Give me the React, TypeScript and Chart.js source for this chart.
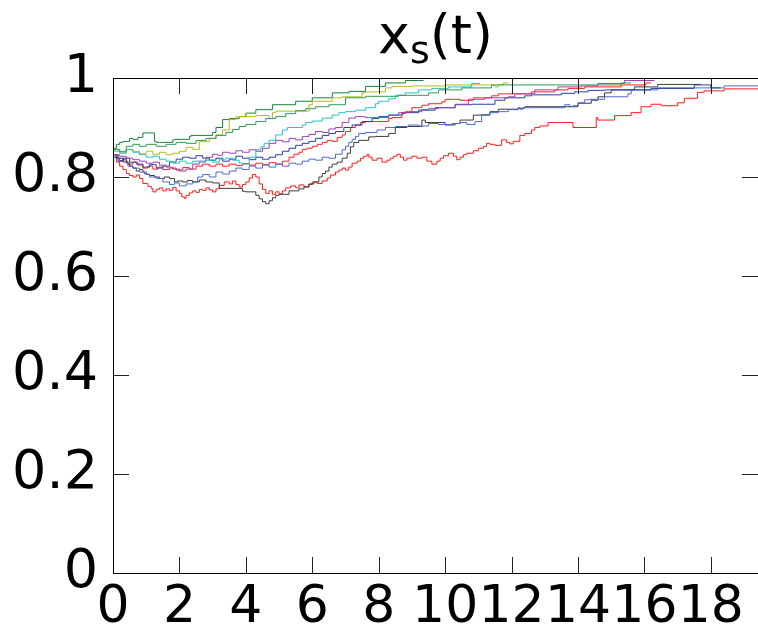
import React, { useEffect, useRef } from "react";
import { Chart, registerables } from "chart.js";

Chart.register(...registerables);

const xTicks = [0, 2, 4, 6, 8, 10, 12, 14, 16, 18];
const yTicks = [0, 0.2, 0.4, 0.6, 0.8, 1];
const xMin = 0;
const xMax = 19.42;
const yMin = 0;
const yMax = 1;

type Pt = [number, number];

const redLow: Pt[] = [[0,0.851],[0.1,0.845],[0.2,0.83],[0.3,0.822],[0.4,0.815],[0.5,0.807],[0.6,0.803],[0.7,0.8],[0.8,0.804],[0.9,0.797],[1.05,0.787],[1.15,0.781],[1.2,0.777],[1.3,0.77],[1.4,0.775],[1.5,0.778],[1.6,0.772],[1.7,0.776],[1.8,0.773],[1.9,0.779],[2.0,0.772],[2.07,0.767],[2.15,0.76],[2.2,0.757],[2.3,0.763],[2.4,0.768],[2.5,0.772],[2.6,0.769],[2.7,0.775],[2.8,0.773],[2.9,0.778],[3.0,0.774],[3.1,0.77],[3.2,0.776],[3.35,0.783],[3.5,0.79],[3.6,0.786],[3.7,0.792],[3.8,0.785],[3.9,0.78],[4.0,0.785],[4.1,0.79],[4.2,0.798],[4.3,0.805],[4.4,0.8],[4.5,0.786],[4.6,0.775],[4.7,0.767],[4.8,0.772],[4.9,0.765],[5.0,0.77],[5.1,0.766],[5.2,0.772],[5.35,0.778],[5.5,0.782],[5.6,0.778],[5.75,0.784],[5.9,0.78],[6.0,0.785],[6.15,0.79],[6.3,0.787],[6.45,0.792],[6.55,0.798],[6.7,0.804],[6.8,0.81],[6.9,0.814],[7.0,0.818],[7.1,0.814],[7.2,0.82],[7.35,0.828],[7.45,0.832],[7.55,0.838],[7.65,0.842],[7.7,0.846],[7.8,0.84],[7.95,0.834],[8.1,0.838],[8.25,0.83],[8.35,0.834],[8.45,0.838],[8.55,0.842],[8.65,0.846],[8.75,0.84],[8.85,0.834],[9.0,0.838],[9.15,0.842],[9.3,0.838],[9.45,0.84],[9.6,0.832],[9.75,0.826],[9.85,0.832],[9.95,0.838],[10.1,0.843],[10.25,0.848],[10.35,0.842],[10.45,0.835],[10.55,0.84],[10.65,0.845],[10.85,0.848],[11.0,0.853],[11.15,0.858],[11.25,0.862],[11.35,0.868],[11.5,0.866],[11.7,0.864],[11.85,0.875],[11.95,0.87],[12.05,0.867],[12.25,0.872],[12.4,0.884],[12.6,0.888],[12.7,0.895],[12.85,0.9],[13.1,0.903],[13.3,0.91],[13.85,0.91],[14.0,0.9],[14.55,0.9],[14.6,0.92],[15.1,0.915],[15.6,0.924],[15.9,0.93],[16.2,0.942],[16.5,0.947],[17.0,0.944],[17.2,0.95],[17.6,0.959],[17.8,0.971],[18.4,0.974],[18.8,0.978],[19.5,0.978]];

const redHigh: Pt[] = [[0,0.85],[0.15,0.845],[0.3,0.838],[0.45,0.832],[0.6,0.826],[0.75,0.83],[0.9,0.824],[1.05,0.818],[1.2,0.822],[1.35,0.816],[1.5,0.82],[1.7,0.815],[1.9,0.818],[2.1,0.814],[2.3,0.819],[2.5,0.816],[2.7,0.822],[2.9,0.826],[3.1,0.822],[3.3,0.826],[3.5,0.822],[3.7,0.826],[3.9,0.823],[4.1,0.827],[4.3,0.824],[4.5,0.828],[4.7,0.825],[4.9,0.829],[5.1,0.826],[5.3,0.832],[5.45,0.84],[5.6,0.846],[5.7,0.85],[5.85,0.856],[6.0,0.858],[6.15,0.862],[6.3,0.866],[6.45,0.87],[6.6,0.874],[6.75,0.872],[6.9,0.88],[7.0,0.885],[7.15,0.892],[7.3,0.9],[7.45,0.905],[7.6,0.91],[8.3,0.912],[8.4,0.918],[8.7,0.92],[8.8,0.928],[9.0,0.932],[9.3,0.94],[9.5,0.945],[9.9,0.948],[10.0,0.952],[10.45,0.957],[10.85,0.955],[11.05,0.96],[11.4,0.96],[11.6,0.964],[12.6,0.968],[13.3,0.972],[13.7,0.976],[14.2,0.979],[15.3,0.982],[15.6,0.986],[16.05,0.986],[16.1,0.99],[16.2,0.99]];

const gray: Pt[] = [[0,0.85],[0.1,0.845],[0.2,0.838],[0.3,0.833],[0.4,0.836],[0.5,0.828],[0.6,0.822],[0.7,0.818],[0.8,0.812],[0.9,0.815],[1.0,0.81],[1.1,0.805],[1.25,0.803],[1.4,0.8],[1.55,0.797],[1.7,0.8],[1.85,0.797],[1.95,0.79],[2.1,0.792],[2.25,0.79],[2.4,0.793],[2.6,0.79],[2.8,0.794],[3.0,0.79],[3.2,0.788],[3.4,0.777],[3.9,0.777],[4.0,0.771],[4.3,0.77],[4.4,0.763],[4.5,0.756],[4.6,0.75],[4.7,0.746],[4.8,0.752],[4.9,0.758],[5.0,0.763],[5.3,0.765],[5.6,0.772],[5.75,0.776],[5.9,0.78],[6.05,0.786],[6.2,0.79],[6.3,0.8],[6.4,0.807],[6.5,0.812],[6.6,0.82],[6.75,0.826],[6.9,0.83],[7.05,0.838],[7.15,0.848],[7.25,0.861],[7.4,0.87],[7.7,0.874],[7.9,0.881],[8.3,0.882],[8.5,0.888],[8.85,0.9],[9.3,0.902],[9.4,0.915],[9.6,0.91],[10.0,0.91],[10.3,0.905],[10.45,0.908],[10.85,0.915],[11.35,0.925],[11.6,0.932],[12.2,0.937],[12.4,0.939],[14.0,0.942],[14.4,0.949],[14.6,0.955],[14.8,0.962],[15.0,0.97],[15.7,0.976],[16.4,0.982],[17.4,0.987],[17.7,0.987]];

const blueLight: Pt[] = [[0,0.85],[0.15,0.845],[0.3,0.838],[0.45,0.83],[0.6,0.822],[0.8,0.818],[0.95,0.81],[1.1,0.806],[1.3,0.8],[1.5,0.797],[1.7,0.79],[1.85,0.785],[2.0,0.788],[2.2,0.782],[2.4,0.786],[2.55,0.79],[2.7,0.8],[2.9,0.805],[3.1,0.8],[3.3,0.81],[3.5,0.806],[3.7,0.812],[3.9,0.818],[4.1,0.815],[4.3,0.822],[4.5,0.818],[4.7,0.824],[4.9,0.82],[5.1,0.826],[5.3,0.822],[5.5,0.828],[5.7,0.826],[5.9,0.832],[6.1,0.836],[6.3,0.834],[6.5,0.84],[6.7,0.838],[6.9,0.846],[7.0,0.855],[7.1,0.862],[7.2,0.87],[7.3,0.876],[7.4,0.882],[7.6,0.888],[7.95,0.89],[8.2,0.895],[8.5,0.9],[8.9,0.902],[9.2,0.905],[9.5,0.903],[9.8,0.908],[10.2,0.906],[10.45,0.908],[10.65,0.91],[10.9,0.906],[11.1,0.912],[11.35,0.926],[11.6,0.93],[11.9,0.932],[12.2,0.936],[12.25,0.94],[12.35,0.937],[12.5,0.94],[13.6,0.94],[13.75,0.946],[13.85,0.942],[14.0,0.944],[14.2,0.95],[14.35,0.956],[14.8,0.957],[15.0,0.962],[15.5,0.962],[15.6,0.968],[15.8,0.976],[16.4,0.976],[16.5,0.98],[18.4,0.98],[18.5,0.984],[19.5,0.984]];

const navy: Pt[] = [[0,0.85],[0.15,0.84],[0.3,0.832],[0.5,0.838],[0.7,0.83],[0.9,0.826],[1.1,0.82],[1.3,0.825],[1.5,0.818],[1.7,0.822],[1.9,0.83],[2.1,0.836],[2.3,0.84],[2.5,0.838],[2.7,0.843],[2.9,0.838],[3.1,0.834],[3.3,0.838],[3.5,0.832],[3.7,0.836],[3.9,0.842],[4.1,0.838],[4.3,0.835],[4.5,0.84],[4.7,0.836],[4.9,0.84],[5.1,0.845],[5.3,0.852],[5.5,0.858],[5.7,0.864],[5.9,0.868],[6.1,0.872],[6.3,0.878],[6.5,0.884],[6.7,0.888],[6.95,0.892],[7.2,0.9],[7.5,0.905],[7.8,0.912],[8.0,0.918],[8.3,0.922],[8.7,0.925],[9.2,0.93],[9.7,0.935],[10.3,0.94],[10.8,0.946],[11.5,0.947],[11.8,0.955],[12.4,0.96],[12.6,0.964],[13.5,0.966],[13.9,0.969],[14.3,0.972],[14.8,0.975],[16.2,0.976],[16.5,0.979],[17.5,0.979],[17.6,0.986],[18.0,0.986],[18.1,0.98],[18.3,0.98]];

const purple: Pt[] = [[0,0.85],[0.2,0.845],[0.4,0.842],[0.6,0.838],[0.8,0.835],[1.0,0.832],[1.2,0.828],[1.4,0.83],[1.6,0.824],[1.8,0.82],[2.0,0.816],[2.2,0.812],[2.4,0.816],[2.6,0.826],[2.8,0.832],[3.0,0.84],[3.15,0.846],[3.3,0.844],[3.5,0.85],[3.7,0.848],[3.9,0.853],[4.1,0.85],[4.3,0.855],[4.5,0.852],[4.7,0.858],[4.9,0.868],[5.1,0.874],[5.3,0.871],[5.5,0.878],[5.7,0.875],[5.9,0.882],[6.1,0.886],[6.3,0.892],[6.5,0.89],[6.7,0.897],[6.9,0.9],[7.1,0.91],[7.3,0.919],[7.6,0.922],[8.3,0.92],[8.6,0.925],[9.0,0.93],[9.3,0.932],[9.5,0.936],[9.8,0.938],[10.3,0.94],[10.7,0.947],[11.2,0.957],[11.9,0.96],[12.1,0.962],[12.7,0.968],[13.4,0.976],[14.1,0.982],[14.6,0.984],[14.7,0.989],[15.4,0.989],[15.5,0.995],[16.3,0.995]];

const cyan: Pt[] = [[0,0.85],[0.2,0.852],[0.4,0.848],[0.6,0.855],[0.8,0.85],[1.0,0.845],[1.2,0.84],[1.4,0.842],[1.6,0.836],[1.8,0.832],[2.0,0.828],[2.2,0.832],[2.4,0.828],[2.6,0.832],[2.8,0.83],[3.0,0.834],[3.2,0.83],[3.4,0.836],[3.6,0.838],[3.8,0.834],[3.9,0.828],[4.1,0.826],[4.3,0.84],[4.45,0.855],[4.55,0.861],[4.7,0.868],[4.9,0.874],[5.1,0.885],[5.25,0.895],[5.7,0.9],[5.8,0.905],[6.0,0.91],[6.3,0.913],[6.6,0.919],[6.8,0.925],[7.0,0.93],[7.3,0.932],[7.6,0.935],[7.9,0.94],[8.0,0.948],[8.3,0.953],[8.5,0.958],[8.8,0.965],[9.2,0.97],[9.6,0.976],[10.1,0.979],[10.8,0.982],[10.9,0.989],[11.05,0.989]];

const yellow: Pt[] = [[0,0.85],[0.2,0.855],[0.4,0.85],[0.6,0.856],[0.8,0.852],[1.0,0.847],[1.2,0.852],[1.4,0.846],[1.6,0.85],[1.8,0.845],[2.0,0.848],[2.2,0.852],[2.4,0.86],[2.6,0.856],[2.9,0.872],[3.1,0.878],[3.3,0.885],[3.5,0.895],[3.7,0.916],[4.3,0.922],[4.7,0.924],[4.8,0.918],[4.9,0.93],[5.9,0.933],[6.0,0.946],[6.6,0.953],[6.9,0.96],[7.5,0.962],[7.6,0.97],[8.2,0.972],[8.4,0.98],[9.0,0.983],[10.0,0.984],[11.5,0.986],[11.6,0.982],[11.75,0.986],[11.9,0.99]];

const greenMid: Pt[] = [[0,0.85],[0.2,0.856],[0.4,0.852],[0.6,0.862],[0.8,0.866],[1.0,0.862],[1.3,0.866],[1.6,0.862],[1.9,0.866],[2.2,0.87],[2.5,0.868],[2.8,0.874],[3.1,0.878],[3.4,0.884],[3.6,0.89],[3.8,0.896],[4.0,0.902],[4.3,0.906],[4.6,0.912],[4.9,0.918],[5.2,0.922],[5.5,0.928],[5.8,0.934],[6.1,0.938],[6.5,0.942],[7.0,0.946],[7.6,0.96],[8.6,0.963],[9.5,0.965],[9.8,0.97],[10.5,0.976],[11.4,0.98],[11.9,0.986],[15.3,0.986],[15.35,0.99],[15.6,0.99]];

const greenDark: Pt[] = [[0,0.85],[0.1,0.858],[0.2,0.866],[0.3,0.87],[0.5,0.872],[0.6,0.878],[0.75,0.876],[0.9,0.88],[0.95,0.889],[1.25,0.889],[1.3,0.872],[1.8,0.87],[1.85,0.875],[2.3,0.876],[2.35,0.882],[3.0,0.884],[3.1,0.89],[3.3,0.9],[3.5,0.916],[3.8,0.918],[4.0,0.922],[4.3,0.929],[4.8,0.936],[5.5,0.946],[6.0,0.953],[6.6,0.96],[7.1,0.97],[7.6,0.973],[8.2,0.983],[8.8,0.99],[9.2,0.995],[9.35,0.995]];

const seriesList: { pts: Pt[]; color: string }[] = [
  { pts: greenMid, color: "#2f9a55" },
  { pts: cyan, color: "#22c4c4" },
  { pts: yellow, color: "#b8b81e" },
  { pts: greenDark, color: "#18803a" },
  { pts: purple, color: "#a040b0" },
  { pts: navy, color: "#2442a0" },
  { pts: blueLight, color: "#4a6cc8" },
  { pts: gray, color: "#3c3c3c" },
  { pts: redHigh, color: "#ff2020" },
  { pts: redLow, color: "#ff1a1a" },
];

const FONT = "'DejaVu Sans', 'Liberation Sans', sans-serif";

export default function App() {
  const ref = useRef<HTMLCanvasElement>(null);

  useEffect(() => {
    document.body.style.margin = "0";
    const canvas = ref.current;
    if (!canvas) return;

    const framePlugin = {
      id: "frameTicks",
      afterDatasetsDraw(chart: any) {
        const { ctx, chartArea } = chart;
        const xs = chart.scales.x;
        const ys = chart.scales.y;
        const L = 16;
        ctx.save();
        ctx.strokeStyle = "#222";
        ctx.lineWidth = 1;
        ctx.beginPath();
        for (const v of xTicks) {
          const px = Math.round(xs.getPixelForValue(v)) + 0.5;
          ctx.moveTo(px, chartArea.bottom);
          ctx.lineTo(px, chartArea.bottom - L);
          ctx.moveTo(px, chartArea.top);
          ctx.lineTo(px, chartArea.top + L);
        }
        for (const v of yTicks) {
          const py = Math.round(ys.getPixelForValue(v)) + 0.5;
          ctx.moveTo(chartArea.left, py);
          ctx.lineTo(chartArea.left + L, py);
          ctx.moveTo(chartArea.right, py);
          ctx.lineTo(chartArea.right - L, py);
        }
        ctx.stroke();
        ctx.strokeStyle = "#000";
        ctx.strokeRect(
          Math.round(chartArea.left) + 0.5,
          Math.round(chartArea.top) + 0.5,
          Math.round(chartArea.right - chartArea.left),
          Math.round(chartArea.bottom - chartArea.top)
        );
        ctx.restore();
      },
      afterDraw(chart: any) {
        const { ctx, chartArea } = chart;
        const cx = (chartArea.left + chartArea.right) / 2;
        const big = "54px " + FONT;
        const small = "38px " + FONT;
        ctx.save();
        ctx.fillStyle = "#000";
        ctx.textBaseline = "alphabetic";
        ctx.textAlign = "left";
        ctx.font = big;
        const w1 = ctx.measureText("x").width;
        const w3 = ctx.measureText("(t)").width;
        ctx.font = small;
        const w2 = ctx.measureText("s").width;
        const total = w1 + w2 + w3;
        let x = cx - total / 2;
        const base = 53;
        ctx.font = big;
        ctx.fillText("x", x, base);
        x += w1;
        ctx.font = small;
        ctx.fillText("s", x, base + 10);
        x += w2;
        ctx.font = big;
        ctx.fillText("(t)", x, base);
        ctx.restore();
      },
    };

    const chart = new Chart(canvas, {
      type: "line",
      data: {
        datasets: seriesList.map((s) => ({
          data: s.pts.map(([x, y]) => ({ x, y })),
          borderColor: s.color,
          backgroundColor: s.color,
          borderWidth: 1,
          pointRadius: 0,
          stepped: "after" as const,
          fill: false,
        })),
      },
      options: {
        animation: false,
        responsive: false,
        events: [],
        layout: { padding: { top: 78, right: 0, left: 0, bottom: 0 } },
        plugins: {
          legend: { display: false },
          tooltip: { enabled: false },
          title: { display: false },
        },
        scales: {
          x: {
            type: "linear",
            min: xMin,
            max: xMax,
            afterBuildTicks: (s: any) => {
              s.ticks = xTicks.map((v) => ({ value: v }));
            },
            afterFit: (s: any) => {
              s.height = 56;
            },
            grid: { display: false, drawTicks: false },
            border: { display: false },
            ticks: {
              autoSkip: false,
              maxRotation: 0,
              minRotation: 0,
              padding: 4,
              color: "#000",
              font: { family: FONT, size: 52 },
              callback: (v: any) => String(v),
            },
          },
          y: {
            type: "linear",
            min: yMin,
            max: yMax,
            afterBuildTicks: (s: any) => {
              s.ticks = yTicks.map((v) => ({ value: v }));
            },
            afterFit: (s: any) => {
              s.width = 113;
            },
            grid: { display: false, drawTicks: false },
            border: { display: false },
            ticks: {
              autoSkip: false,
              padding: 15,
              color: "#000",
              font: { family: FONT, size: 54 },
              callback: (v: any) => String(v),
            },
          },
        },
      },
      plugins: [framePlugin],
    });

    return () => chart.destroy();
  }, []);

  return <canvas ref={ref} width={758} height={629} style={{ display: "block" }} />;
}
